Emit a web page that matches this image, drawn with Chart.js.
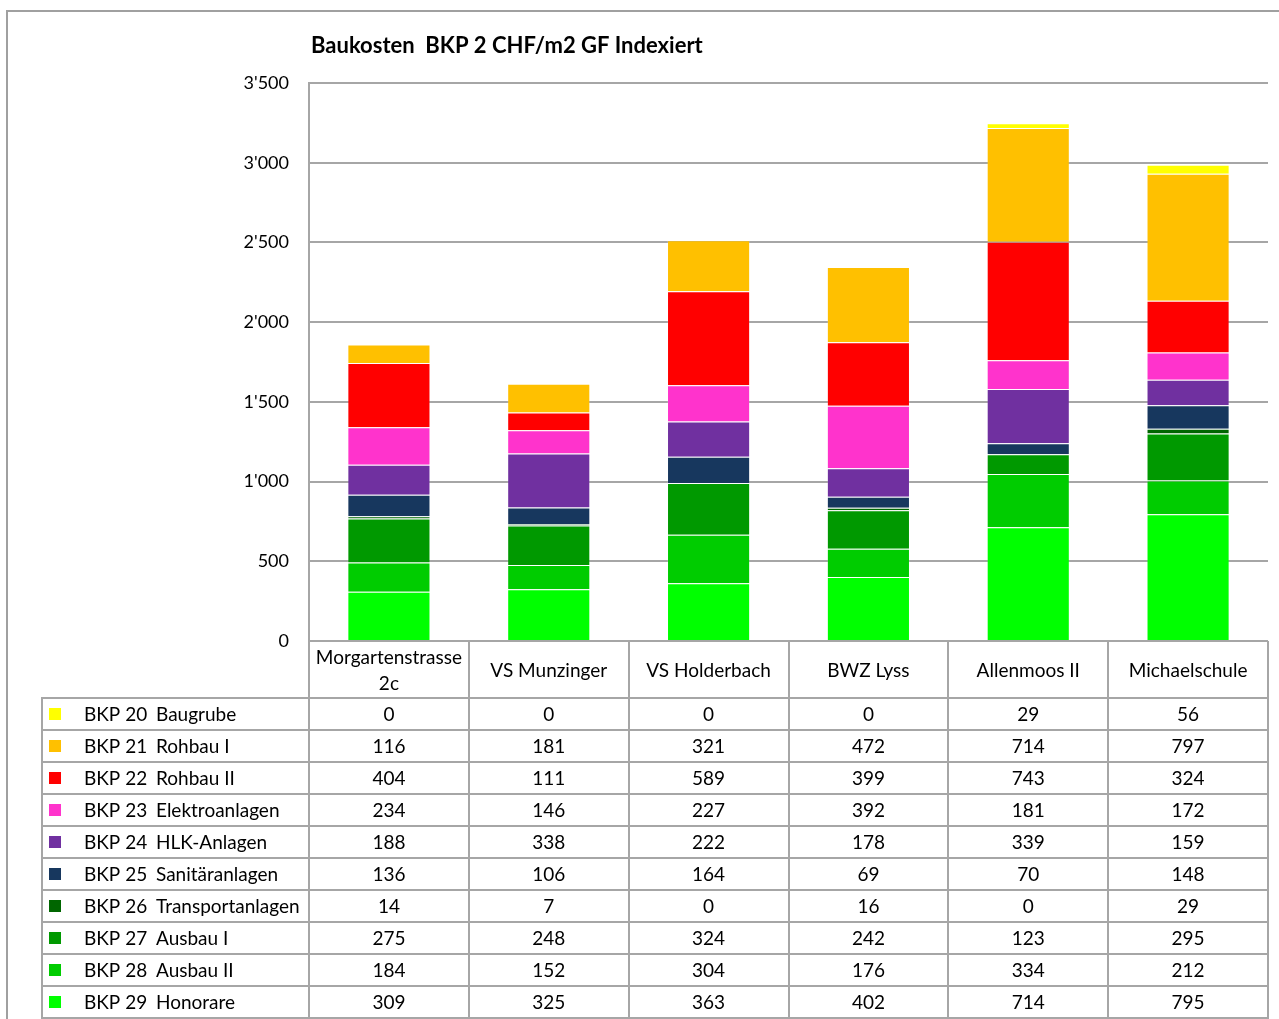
<!DOCTYPE html>
<html>
<head>
<meta charset="utf-8">
<script src="https://cdn.jsdelivr.net/npm/chart.js@4"></script>
<style>
  html, body { margin: 0; padding: 0; background: #ffffff; }
  #wrap { position: relative; width: 1279px; height: 1019px; }
</style>
</head>
<body>
<div id="wrap"><canvas id="c" width="1279" height="1019"></canvas></div>
<script>
// Projects (columns of the data table)
const categories = [['Morgartenstrasse', '2c'], 'VS Munzinger', 'VS Holderbach', 'BWZ Lyss', 'Allenmoos II', 'Michaelschule'];

// Cost groups, listed top to bottom as in the table
const seriesCodes = ['BKP 20', 'BKP 21', 'BKP 22', 'BKP 23', 'BKP 24', 'BKP 25', 'BKP 26', 'BKP 27', 'BKP 28', 'BKP 29'];
const seriesNames = ['Baugrube', 'Rohbau I', 'Rohbau II', 'Elektroanlagen', 'HLK-Anlagen', 'Sanitäranlagen', 'Transportanlagen', 'Ausbau I', 'Ausbau II', 'Honorare'];

// CHF/m2 GF, indexed
const bkp20 = [0, 0, 0, 0, 29, 56];
const bkp21 = [116, 181, 321, 472, 714, 797];
const bkp22 = [404, 111, 589, 399, 743, 324];
const bkp23 = [234, 146, 227, 392, 181, 172];
const bkp24 = [188, 338, 222, 178, 339, 159];
const bkp25 = [136, 106, 164, 69, 70, 148];
const bkp26 = [14, 7, 0, 16, 0, 29];
const bkp27 = [275, 248, 324, 242, 123, 295];
const bkp28 = [184, 152, 304, 176, 334, 212];
const bkp29 = [309, 325, 363, 402, 714, 795];
const seriesValues = [bkp20, bkp21, bkp22, bkp23, bkp24, bkp25, bkp26, bkp27, bkp28, bkp29];

const seriesColors = ['#FFFF00', '#FFC000', '#FF0000', '#FF33CC', '#7030A0', '#17375E', '#006600', '#009900', '#00CC00', '#00FF00'];

// Value axis
const yMin = 0;
const yMax = 3500;
const yStep = 500;

const titleText = 'Baukosten  BKP 2 CHF/m2 GF Indexiert';

const FONT = 'Lato, "Open Sans", sans-serif';
const LINE = '#A6A6A6';

function swissNumber(v) {
  return String(Math.round(v)).replace(/\B(?=(\d{3})+(?!\d))/g, "'");
}

// Bottom of the stack is BKP 29, top is BKP 20
const datasets = seriesValues.map((vals, i) => ({
  label: seriesCodes[i] + '  ' + seriesNames[i],
  data: vals,
  backgroundColor: seriesColors[i],
  borderColor: 'rgba(255,255,255,0.12)',
  borderWidth: 1,
  borderSkipped: 'start'
})).reverse();

const HEADER_H = 57;
const ROW_H = 32;
const TABLE_LEFT = 42;

const tablePlugin = {
  id: 'dataTable',
  afterDraw(chart) {
    const ctx = chart.ctx;
    const area = chart.chartArea;
    const xs = chart.scales.x;
    const half = (xs.getPixelForValue(1) - xs.getPixelForValue(0)) / 2;
    const n = categories.length;
    const top = area.bottom;
    const bodyTop = top + HEADER_H;
    const bottom = bodyTop + ROW_H * seriesCodes.length;

    ctx.save();

    // outer frame (top and left edge)
    ctx.strokeStyle = '#A0A0A0';
    ctx.lineWidth = 2;
    ctx.beginPath();
    ctx.moveTo(7, 1019);
    ctx.lineTo(7, 11);
    ctx.lineTo(1279, 11);
    ctx.stroke();

    // title
    ctx.fillStyle = '#000000';
    ctx.font = 'bold 22px ' + FONT;
    ctx.textAlign = 'left';
    ctx.textBaseline = 'alphabetic';
    ctx.fillText(titleText, 311, 53);

    // table grid
    ctx.strokeStyle = LINE;
    ctx.lineWidth = 2;
    ctx.beginPath();
    for (let i = 0; i <= n; i++) {
      const x = Math.round(xs.getPixelForValue(i) - half);
      ctx.moveTo(x, top);
      ctx.lineTo(x, bottom);
    }
    ctx.moveTo(TABLE_LEFT, bodyTop);
    ctx.lineTo(TABLE_LEFT, bottom);
    for (let r = 0; r <= seriesCodes.length; r++) {
      const y = bodyTop + r * ROW_H;
      ctx.moveTo(TABLE_LEFT - 1, y);
      ctx.lineTo(area.right + 1, y);
    }
    ctx.stroke();

    ctx.fillStyle = '#000000';
    ctx.font = '19px ' + FONT;
    ctx.textBaseline = 'middle';

    // column headers
    ctx.textAlign = 'center';
    categories.forEach((cat, i) => {
      const cx = xs.getPixelForValue(i);
      const lines = Array.isArray(cat) ? cat : [cat];
      const lh = 26;
      const y0 = top + HEADER_H / 2 + 1 - (lines.length - 1) * lh / 2;
      lines.forEach((ln, k) => ctx.fillText(ln, cx, y0 + k * lh));
    });

    // rows
    seriesCodes.forEach((code, r) => {
      const cy = bodyTop + r * ROW_H + ROW_H / 2 + 1;
      ctx.fillStyle = seriesColors[r];
      ctx.fillRect(49, Math.round(cy - 7), 12, 12);
      ctx.fillStyle = '#000000';
      ctx.textAlign = 'left';
      ctx.fillText(code, 84, cy);
      ctx.fillText(seriesNames[r], 156, cy);
      ctx.textAlign = 'center';
      seriesValues[r].forEach((v, i) => {
        ctx.fillText(swissNumber(v), xs.getPixelForValue(i), cy);
      });
    });

    ctx.restore();
  }
};

new Chart(document.getElementById('c'), {
  type: 'bar',
  data: { labels: categories, datasets },
  plugins: [tablePlugin],
  options: {
    responsive: false,
    animation: false,
    events: [],
    layout: { padding: { top: 83, bottom: 378, left: 0, right: 11 } },
    plugins: {
      legend: { display: false },
      title: { display: false },
      tooltip: { enabled: false }
    },
    datasets: { bar: { categoryPercentage: 1.0, barPercentage: 0.52 } },
    scales: {
      x: {
        stacked: true,
        display: false
      },
      y: {
        stacked: true,
        min: yMin,
        max: yMax,
        ticks: {
          stepSize: yStep,
          padding: 20,
          color: '#000000',
          font: { family: FONT, size: 18 },
          callback: (v) => swissNumber(v)
        },
        grid: { color: LINE, lineWidth: 2, drawTicks: false },
        border: { display: true, color: LINE, width: 2 },
        afterFit(scale) { scale.width = 309; }
      }
    }
  }
});
</script>
</body>
</html>
